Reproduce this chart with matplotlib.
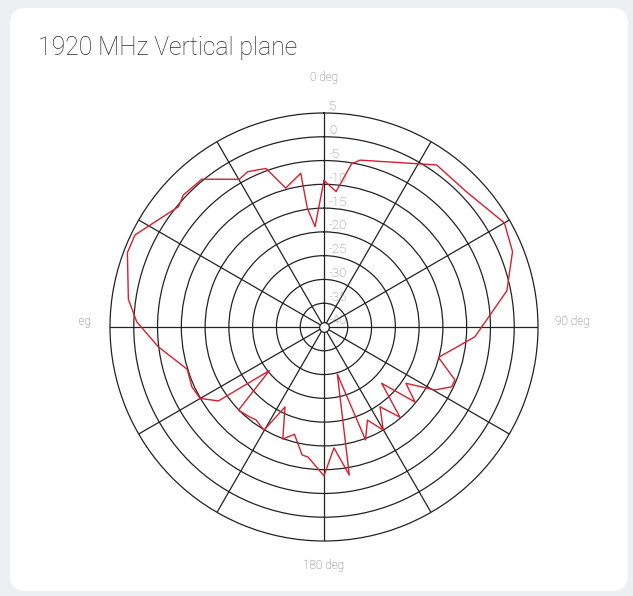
import numpy as np
import matplotlib
matplotlib.use("Agg")
import matplotlib.pyplot as plt
import matplotlib.transforms as mtransforms
from matplotlib.patches import FancyBboxPatch

# ---- data (angle in degrees, gain in dB) ----
angles_deg = [0, 5.1, 9.6, 12.2, 34.8, 46.5, 60, 68.2, 78.8, 93.7,
              104.9, 112, 115.1, 119.6, 124.5, 129.5, 134.3, 139.9, 144.9, 150.1,
              155, 159.8, 164.2, 170.3, 175.3, 180, 187, 189.7, 195.4, 200.2,
              206, 210.2, 216.2, 219.3, 225.8, 231.4, 235, 240.1, 245.7, 252.8,
              263.2, 271.6, 278.1, 290.7, 296, 309.6, 313.2, 320.4, 330.2, 333.8,
              339.9, 344.6, 351.4, 352.0, 354.9, 360]
gain_db = [-9.2, -11.4, -5.2, -4.1, 1.5, 1.3, 3.8, 2.7, -0.8, -8.2,
           -15.1, -10.3, -10.35, -13.2, -19.1, -15.2, -23.05, -15.2, -19.5, -15.0,
           -18.4, -14.7, -29.7, -8.4, -14.5, -8.7, -12.45, -12.7, -16.6, -14.9,
           -21.3, -14.9, -15.8, -15.5, -14.9, -25.3, -12.9, -9.9, -9.5, -9.9,
           -4.9, -0.6, 1.55, 4.2, 4.2, -0.3, 0.56, 0.33, -4.2, -3.6,
           -4.5, -9.7, -7.3, -14.75, -18.8, -9.2]
r_ticks = [5, 0, -5, -10, -15, -20, -25, -30, -35, -40]
theta_grid = [0, 30, 60, 90, 120, 150, 180, 210, 240, 270, 300, 330]
dir_labels = ["0 deg", "90 deg", "180 deg", "270 deg"]
title = "1920 MHz Vertical plane"

W, H = 633, 596
fig = plt.figure(figsize=(W / 100, H / 100), dpi=100)
fig.patch.set_facecolor("#eeeff1")

# white card
card = FancyBboxPatch((10, 5), 618, 583, boxstyle="round,pad=0,rounding_size=16",
                      transform=mtransforms.IdentityTransform(),
                      facecolor="white", edgecolor="none", zorder=0)
fig.add_artist(card)

fam = ["Roboto", "DejaVu Sans"]
grid_col = "#222222"

cx, cy, R = 324, 327, 214
ax = fig.add_axes([(cx - R) / W, (H - cy - R) / H, 2 * R / W, 2 * R / H],
                  projection="polar")
ax.set_facecolor("none")
ax.set_theta_zero_location("N")
ax.set_theta_direction(-1)
ax.set_rlim(-40, 5)
ax.set_xticks(np.deg2rad(theta_grid))
ax.set_xticklabels([])
ax.set_yticks(r_ticks[1:-1])
ax.set_yticklabels([])
ax.grid(True, color=grid_col, linewidth=0.9)
ax.spines["polar"].set_color(grid_col)
ax.spines["polar"].set_linewidth(0.9)
ax.tick_params(length=0)

# radial labels along 0 deg spoke
off = mtransforms.ScaledTranslation(5 / 100, 2.5 / 100, fig.dpi_scale_trans)
for r in r_ticks:
    ax.text(0, r, str(r), transform=ax.transData + off, ha="left", va="baseline",
            fontsize=9.5, color="#7a7a7a", family=fam, fontweight="light", zorder=5)

# curve
th = np.deg2rad(angles_deg)
ax.plot(th, gain_db, color="#d42030", linewidth=1.0, zorder=4)

# center circle
ax.plot([0], [-40], marker="o", markersize=7, markerfacecolor="white",
        markeredgecolor=grid_col, markeredgewidth=0.9, zorder=6, clip_on=False)

# direction labels
def ftxt(x, y, s, **kw):
    return fig.text(x / W, 1 - y / H, s, fontsize=8.5, color="#6a6a6a",
                    family=fam, fontweight="light", **kw)

ftxt(cx, 78, dir_labels[0], ha="center", va="center")
ftxt(555, 321, dir_labels[1], ha="left", va="center")
ftxt(cx, 565, dir_labels[2], ha="center", va="center")
t = ftxt(91, 321, dir_labels[3], ha="right", va="center")
t.set_clip_box(mtransforms.Bbox.from_extents(79, 0, W, H))
t.set_clip_on(True)

fig.text(38 / W, 1 - 48 / H, title, fontsize=17.8, color="#2a2a2a", family=fam,
         fontweight="light", ha="left", va="center")

fig.savefig("out.png", dpi=100, facecolor=fig.get_facecolor())
